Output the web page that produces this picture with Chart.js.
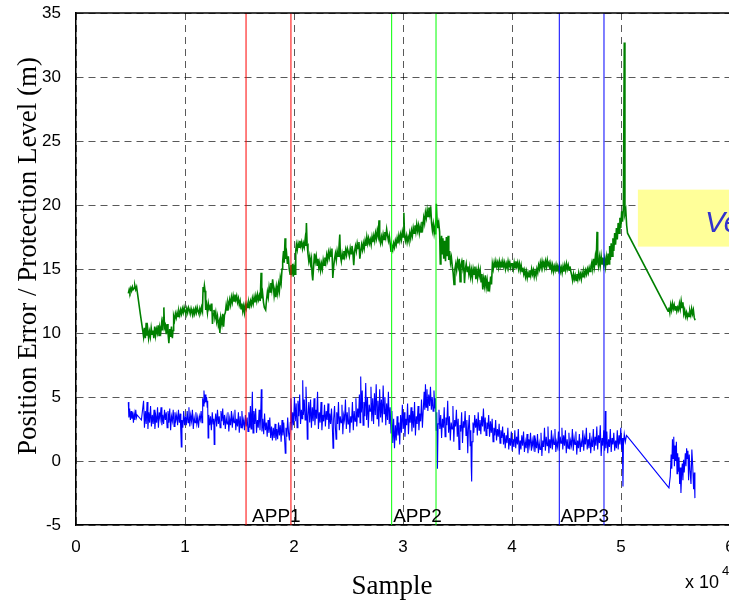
<!DOCTYPE HTML>
<html>

<head>
    <meta charset="UTF-8">
    <title>Position Error / Protection Level</title>
    <script src="https://cdn.jsdelivr.net/npm/chart.js"></script>
    <style>
        html, body { margin: 0; padding: 0; background: #fff; overflow: hidden; }
        canvas { display: block; }
    </style>
</head>

<body>
    <canvas id="myChart" width="745" height="601"></canvas>
    <script>
        // approach windows (sample x 10^4)
        const appNames = ['APP1', 'APP2', 'APP3'];
        const appStart = [1.56, 2.896, 4.434];
        const appEnd = [1.972, 3.303, 4.844];
        const appLabelX = [1.615, 2.91, 4.444];
        const appColors = ['#ff0000', '#00ff00', '#0000ff'];

        const xTicks = [0, 1, 2, 3, 4, 5, 6];
        const yTicks = [-5, 0, 5, 10, 15, 20, 25, 30, 35];

        // protection level [sample x 10^4, m]
        const protLevel = [
            [0.480,13.1],[0.488,13.4],[0.495,13.2],[0.503,13.5],[0.510,13.3],[0.518,13.6],[0.525,13.4],[0.533,13.5],[0.540,13.7],[0.548,13.4],[0.556,13.6],
            [0.590,11.5],[0.612,10.2],[0.620,9.7],[0.628,10.4],[0.636,9.6],[0.644,10.8],[0.650,9.8],[0.658,10.3],[0.666,9.6],[0.674,10.1],[0.682,9.7],[0.690,10.4],[0.698,9.9],[0.706,10.2],[0.714,9.6],[0.722,10.5],[0.730,9.8],[0.738,10.3],[0.746,10.0],[0.754,10.6],[0.762,9.8],[0.770,10.4],[0.778,10.1],[0.786,10.8],[0.794,10.2],[0.800,11.2],[0.806,12.0],[0.812,10.4],[0.820,10.6],[0.828,9.9],[0.836,10.7],[0.844,10.0],[0.852,9.2],[0.860,10.3],[0.868,9.7],[0.876,10.5],[0.884,9.6],[0.890,10.2],
            [0.896,11.3],[0.904,11.0],[0.912,11.5],[0.920,11.2],[0.928,11.6],[0.936,11.3],[0.944,11.7],[0.952,11.4],[0.960,11.8],[0.968,11.5],[0.976,11.9],[0.984,11.6],[0.992,12.0],[1.000,11.7],[1.008,11.5],[1.016,11.9],[1.024,11.6],[1.032,12.0],[1.040,11.8],[1.048,11.5],[1.056,11.9],[1.064,11.6],[1.072,11.4],[1.080,11.8],[1.088,11.5],[1.096,11.9],[1.104,11.6],[1.112,12.0],[1.120,11.7],[1.128,11.5],[1.136,11.9],[1.144,11.6],[1.152,12.0],[1.160,11.7],
            [1.166,13.6],[1.172,13.2],[1.178,13.7],[1.184,13.3],[1.190,11.8],[1.198,12.2],[1.206,11.6],[1.214,12.3],[1.222,11.9],[1.230,12.1],[1.238,11.7],[1.246,12.3],[1.252,10.7],[1.258,11.5],[1.266,11.8],[1.274,11.2],[1.282,11.6],[1.290,10.9],[1.298,11.3],[1.306,10.6],[1.314,10.9],[1.320,10.0],[1.328,11.2],[1.338,10.7],[1.346,11.5],[1.354,10.5],[1.362,11.4],[1.370,11.6],[1.378,12.2],[1.386,11.8],[1.394,12.4],[1.402,12.1],[1.410,12.6],[1.418,12.2],[1.426,12.8],[1.434,12.4],[1.442,12.9],[1.450,12.5],[1.458,13.0],[1.466,12.6],[1.474,12.9],[1.482,12.4],[1.490,12.7],[1.498,12.2],[1.506,12.5],[1.514,11.9],[1.522,12.3],[1.530,11.7],[1.538,12.1],[1.546,11.6],[1.554,12.2],
            [1.562,11.9],[1.570,12.3],[1.578,12.0],[1.586,12.4],[1.594,12.1],[1.602,12.5],[1.610,12.2],[1.618,12.7],[1.626,12.3],[1.634,12.8],[1.642,12.4],[1.650,12.9],[1.658,12.5],[1.666,13.0],[1.674,12.6],[1.682,12.9],[1.690,12.5],[1.698,14.7],[1.704,12.7],[1.712,13.1],[1.720,12.4],[1.728,12.0],[1.740,11.8],[1.748,12.6],[1.756,13.2],[1.764,12.8],[1.772,13.6],[1.780,13.2],[1.788,13.9],[1.796,13.4],[1.804,14.2],[1.812,13.5],[1.818,12.9],[1.826,13.4],[1.834,12.8],[1.842,13.6],[1.850,13.1],[1.858,13.8],[1.866,13.3],[1.874,14.3],[1.882,13.9],[1.890,15.0],[1.896,15.6],[1.904,16.4],[1.910,15.5],[1.918,17.4],[1.924,15.8],[1.932,16.2],[1.940,15.4],[1.948,16.0],[1.956,15.0],[1.964,14.6],[1.972,15.3],[1.980,14.8],[1.988,15.4],[1.994,14.4],[2.002,15.1],[2.010,14.6],
            [2.016,16.4],[2.022,16.9],[2.030,16.5],[2.038,17.0],[2.046,16.7],[2.054,17.2],[2.062,16.8],[2.070,17.1],[2.078,16.6],[2.086,17.0],[2.094,16.7],[2.102,17.3],[2.108,16.8],[2.114,18.6],[2.120,17.0],[2.128,16.2],[2.136,15.6],[2.144,16.0],[2.152,15.4],[2.160,15.8],[2.166,14.6],[2.172,14.1],[2.180,15.2],[2.188,16.2],[2.196,15.6],[2.204,16.0],[2.212,15.3],[2.220,15.8],[2.228,15.1],[2.236,15.5],[2.244,14.9],[2.252,15.4],[2.260,15.0],[2.268,15.7],[2.276,15.3],[2.284,15.9],[2.292,15.5],[2.300,16.1],[2.308,15.7],[2.316,16.3],[2.324,15.9],[2.332,16.4],[2.340,16.0],[2.348,16.6],[2.356,14.3],[2.364,15.2],[2.372,15.8],[2.380,16.2],[2.388,15.7],[2.396,16.4],[2.404,16.0],[2.412,16.6],[2.420,17.7],[2.426,16.0],[2.434,15.6],[2.442,16.2],[2.450,15.8],[2.458,16.4],[2.466,16.0],[2.474,16.5],[2.482,16.1],[2.490,16.6],
            [2.500,16.3],[2.508,16.0],[2.516,16.6],[2.524,16.2],[2.532,16.8],[2.540,16.3],[2.548,15.3],[2.556,16.4],[2.564,16.8],[2.572,16.4],[2.580,17.0],[2.588,16.6],[2.596,17.1],[2.604,15.8],[2.612,16.4],[2.620,16.9],[2.628,16.5],[2.636,17.0],[2.644,16.6],[2.652,17.2],[2.660,16.8],[2.668,17.5],[2.676,17.0],[2.684,17.4],[2.692,17.0],[2.700,17.3],[2.708,16.9],[2.716,17.5],[2.724,17.1],[2.732,17.6],[2.740,17.2],[2.748,17.8],[2.756,17.4],[2.764,18.0],[2.772,17.6],[2.780,18.8],[2.786,17.3],[2.794,17.0],[2.802,17.5],[2.810,17.1],[2.818,17.7],[2.826,17.3],[2.834,17.9],[2.842,17.5],[2.850,18.1],[2.858,17.6],[2.866,17.2],[2.874,17.6],[2.882,17.0],[2.890,16.4],[2.898,16.8],[2.906,16.5],[2.914,17.0],[2.922,16.7],[2.930,17.2],[2.938,16.9],[2.946,17.4],[2.954,17.0],[2.962,17.6],[2.970,17.2],[2.978,17.7],[2.986,17.3],[2.994,17.9],[3.002,17.5],[3.008,19.4],[3.014,17.6],
            [3.022,17.2],[3.030,17.6],[3.038,17.1],[3.046,17.5],[3.054,17.2],[3.062,17.8],[3.070,17.4],[3.078,18.0],[3.086,17.6],[3.094,18.2],[3.102,17.8],[3.110,18.4],[3.118,17.9],[3.126,18.5],[3.134,18.0],[3.142,18.4],[3.150,17.8],[3.158,18.3],[3.166,17.9],[3.174,18.7],[3.182,18.3],[3.190,19.0],[3.198,18.6],[3.206,19.4],[3.214,19.0],[3.222,19.6],[3.230,19.1],[3.238,19.8],[3.246,19.3],[3.254,19.9],[3.262,18.6],[3.270,18.0],[3.278,18.5],[3.286,17.8],[3.294,18.3],[3.300,17.7],[3.306,20.1],[3.312,18.8],[3.320,18.2],[3.328,18.6],[3.336,17.9],[3.342,15.4],[3.348,16.8],[3.354,17.6],[3.360,16.2],[3.366,17.4],[3.374,15.8],[3.382,17.2],[3.390,15.6],[3.398,17.5],[3.406,16.0],[3.414,17.6],[3.420,15.7],[3.428,16.4],[3.436,15.5],[3.444,15.9],[3.452,15.2],[3.460,14.7],[3.468,13.8],[3.476,15.0],[3.484,15.4],[3.492,14.9],
            [3.500,15.6],[3.508,15.2],[3.516,15.8],[3.524,14.0],[3.532,15.3],[3.540,15.6],[3.548,15.1],[3.556,15.7],[3.564,13.9],[3.572,15.0],[3.580,15.4],[3.588,14.8],[3.596,15.2],[3.604,14.6],[3.612,15.1],[3.620,14.4],[3.628,14.9],[3.636,14.3],[3.644,15.0],[3.652,14.6],[3.660,15.2],[3.668,14.2],[3.676,14.8],[3.684,14.3],[3.692,15.0],[3.700,14.5],[3.708,14.9],[3.716,14.0],[3.724,14.6],[3.732,13.4],[3.740,14.2],[3.748,13.7],[3.756,14.5],[3.764,13.6],[3.772,14.1],[3.780,13.3],[3.788,14.0],[3.796,13.6],[3.804,14.4],[3.812,13.8],[3.820,15.4],[3.828,15.0],[3.836,15.5],[3.844,15.1],[3.852,15.6],[3.860,15.2],[3.868,15.5],[3.876,15.1],[3.884,15.6],[3.892,15.2],[3.900,15.5],[3.908,15.1],[3.916,15.6],[3.924,15.2],[3.932,15.5],[3.940,15.0],[3.948,15.4],[3.956,15.1],[3.964,15.6],[3.972,15.2],[3.980,15.5],[3.988,15.1],[3.996,15.4],
            [4.004,15.4],[4.012,15.0],[4.020,15.5],[4.028,15.1],[4.036,15.6],[4.044,15.2],[4.052,15.5],[4.060,15.0],[4.068,15.4],[4.076,14.9],[4.084,15.3],[4.092,14.8],[4.100,15.1],[4.108,14.6],[4.116,14.9],[4.124,14.4],[4.132,14.8],[4.140,14.3],[4.148,14.7],[4.156,14.4],[4.164,14.9],[4.172,14.5],[4.180,15.0],[4.188,14.6],[4.196,14.9],[4.204,14.4],[4.212,14.8],[4.220,14.5],[4.228,15.0],[4.236,14.7],[4.244,15.3],[4.252,15.0],[4.260,15.5],[4.268,15.1],[4.276,15.6],[4.284,15.2],[4.292,15.5],[4.300,15.1],[4.308,15.6],[4.316,15.2],[4.324,15.7],[4.332,15.3],[4.340,15.5],[4.348,15.0],[4.356,15.4],[4.364,14.9],[4.372,15.3],[4.380,14.8],[4.388,15.2],[4.396,14.9],[4.404,15.3],[4.412,14.8],[4.420,15.2],[4.428,14.9],[4.436,15.3],[4.444,14.8],[4.452,15.1],[4.460,14.7],[4.468,15.2],[4.476,14.8],[4.484,15.3],[4.492,14.9],
            [4.500,15.4],[4.508,15.0],[4.516,15.3],[4.524,14.9],[4.532,15.2],[4.540,14.8],[4.548,14.5],[4.556,14.1],[4.564,14.6],[4.572,14.2],[4.580,14.5],[4.588,14.1],[4.596,14.6],[4.604,14.2],[4.612,14.7],[4.620,14.3],[4.628,14.6],[4.636,14.2],[4.644,14.7],[4.652,14.4],[4.660,14.8],[4.668,14.5],[4.676,14.9],[4.684,14.6],[4.692,15.0],[4.700,14.7],[4.708,15.1],[4.716,14.8],[4.724,15.2],[4.732,15.5],[4.740,15.0],[4.748,15.8],[4.756,15.2],[4.764,15.9],[4.772,15.3],[4.780,17.9],[4.786,15.6],[4.794,15.2],[4.802,15.9],[4.810,15.3],[4.818,16.0],[4.826,15.4],[4.834,15.9],[4.842,15.3],[4.850,15.8],[4.858,15.2],[4.866,15.9],[4.874,15.3],[4.882,16.2],[4.890,15.4],[4.896,16.8],[4.902,15.7],[4.910,17.0],[4.918,16.0],[4.926,17.4],[4.934,16.4],[4.942,17.8],[4.950,16.9],[4.958,18.2],[4.966,17.3],[4.974,18.6],[4.982,17.8],[4.990,19.0],[4.998,18.2],[5.006,19.5],[5.014,18.7],[5.022,19.8],[5.030,32.7],[5.036,19.3],[5.044,19.6],[5.052,18.4],[5.060,17.8],
            [5.432,11.7],[5.440,12.0],[5.448,11.6],[5.456,12.2],[5.464,11.8],[5.472,12.3],[5.480,11.9],[5.488,12.2],[5.496,11.8],[5.504,12.1],[5.512,11.7],[5.520,12.0],[5.528,11.8],[5.536,12.3],[5.544,11.9],[5.552,12.5],[5.560,12.0],[5.568,12.4],[5.576,11.5],[5.584,11.8],[5.592,11.3],[5.600,11.6],[5.608,11.2],[5.616,11.5],[5.624,11.3],[5.632,11.7],[5.640,11.4],[5.648,11.9],[5.656,11.5],[5.664,11.8],[5.672,11.2],[5.680,11.0]
        ];

        // position error [sample x 10^4, m]
        const posError = [
            [0.480,4.6],[0.485,3.4],[0.492,4.1],[0.499,3.2],[0.506,3.9],[0.513,3.3],[0.520,3.8],[0.527,3.0],[0.534,3.7],[0.541,3.2],[0.548,4.0],[0.555,3.4],[0.560,3.6],[0.600,3.2],
            [0.620,4.7],[0.628,2.6],[0.636,3.9],[0.644,2.9],[0.652,4.6],[0.660,2.5],[0.668,3.8],[0.676,3.0],[0.684,4.3],[0.692,2.7],[0.700,3.6],[0.708,2.9],[0.716,4.0],[0.724,2.5],[0.732,3.5],[0.740,3.0],[0.748,4.2],[0.756,2.6],[0.764,3.8],[0.772,3.3],[0.780,4.2],[0.788,2.8],[0.796,3.6],[0.804,2.9],[0.812,4.0],[0.820,3.2],[0.828,3.8],[0.836,2.6],[0.844,3.9],[0.852,3.0],[0.860,4.1],[0.868,2.4],[0.876,3.5],[0.884,3.1],[0.892,4.0],[0.900,2.7],[0.908,3.8],[0.916,3.2],[0.924,3.6],[0.932,2.8],[0.940,4.0],[0.948,3.0],[0.956,3.7],[0.962,2.2],[0.966,1.1],[0.972,3.2],[0.980,2.6],[0.988,3.9],[0.996,2.8],
            [1.004,3.5],[1.012,2.8],[1.020,3.9],[1.028,3.0],[1.036,4.2],[1.044,2.7],[1.052,3.6],[1.060,3.1],[1.068,4.0],[1.076,2.5],[1.084,3.4],[1.092,3.0],[1.100,3.8],[1.108,2.9],[1.116,3.4],[1.124,2.6],[1.132,3.5],[1.140,3.2],[1.148,3.9],[1.156,3.0],[1.162,4.9],[1.168,4.3],[1.174,5.5],[1.180,4.5],[1.186,5.2],[1.192,4.6],[1.198,5.0],[1.204,4.2],[1.208,4.7],[1.212,1.8],[1.218,3.6],[1.226,2.8],[1.234,3.5],[1.242,2.4],[1.250,3.8],[1.258,2.9],[1.264,3.3],[1.268,1.3],[1.274,3.0],[1.282,3.7],[1.290,2.7],[1.298,4.0],[1.306,2.9],[1.314,3.5],[1.322,2.6],[1.330,3.9],[1.338,3.1],[1.346,4.1],[1.354,2.8],[1.362,3.6],[1.370,2.5],[1.378,3.4],[1.386,2.9],[1.394,3.8],[1.402,2.3],[1.410,3.3],[1.418,2.8],[1.426,3.9],[1.434,2.6],[1.442,3.5],[1.450,3.0],[1.458,4.0],[1.466,2.4],[1.474,3.3],[1.482,2.7],[1.490,3.8],[1.498,2.2],[1.506,3.5],[1.514,2.6],[1.522,3.9],[1.530,2.8],[1.538,3.2],[1.546,2.4],[1.554,3.6],
            [1.562,2.7],[1.570,3.4],[1.578,2.3],[1.586,3.8],[1.594,2.6],[1.600,4.3],[1.606,2.5],[1.612,3.6],[1.618,5.4],[1.624,2.2],[1.632,3.9],[1.640,2.9],[1.648,4.1],[1.656,2.2],[1.664,3.2],[1.672,2.6],[1.680,4.0],[1.688,2.4],[1.694,3.5],[1.700,5.6],[1.706,2.3],[1.714,3.3],[1.722,2.1],[1.730,3.7],[1.738,2.4],[1.746,3.0],[1.754,1.9],[1.762,3.2],[1.770,2.2],[1.778,3.4],[1.786,1.8],[1.794,2.7],[1.802,1.6],[1.810,2.6],[1.818,1.8],[1.826,2.9],[1.834,1.6],[1.842,2.5],[1.850,1.7],[1.858,3.0],[1.866,2.0],[1.874,2.8],[1.882,1.5],[1.890,3.2],[1.898,2.0],[1.906,3.0],[1.914,1.7],[1.920,0.6],[1.926,2.6],[1.934,1.9],[1.942,3.4],[1.950,2.2],[1.958,1.6],[1.966,3.0],
            [1.972,4.9],[1.980,2.4],[1.988,3.8],[1.996,2.8],[2.004,5.0],[2.012,3.1],[2.020,4.5],[2.028,2.6],[2.036,4.7],[2.044,3.5],[2.052,5.2],[2.060,2.9],[2.068,4.0],[2.074,3.3],[2.080,6.3],[2.086,3.6],[2.094,4.8],[2.102,3.2],[2.110,5.8],[2.116,4.3],[2.122,1.7],[2.128,3.5],[2.136,4.6],[2.144,3.0],
            [2.152,4.8],[2.160,2.6],[2.168,4.2],[2.176,3.1],[2.184,4.9],[2.192,2.8],[2.200,4.0],[2.208,3.3],[2.216,5.4],[2.224,2.5],[2.232,3.8],[2.240,3.0],[2.248,4.6],[2.256,2.4],[2.264,3.6],[2.272,3.1],[2.280,4.4],[2.288,2.7],[2.296,3.9],[2.304,3.2],[2.312,4.5],[2.320,2.5],[2.328,3.7],[2.336,2.9],[2.344,4.1],[2.352,2.6],[2.358,1.0],[2.364,3.3],
            [2.372,4.3],[2.380,2.6],[2.386,1.7],[2.392,3.8],[2.400,2.9],[2.408,4.6],[2.416,2.4],[2.424,3.5],[2.432,3.0],[2.440,4.4],[2.448,2.1],[2.456,3.6],[2.464,3.2],[2.472,4.8],[2.480,2.5],[2.488,3.8],[2.496,2.9],[2.504,4.2],[2.512,2.2],[2.520,3.5],[2.528,3.0],[2.536,4.6],[2.544,2.4],[2.552,3.9],[2.560,3.1],[2.568,4.9],[2.576,2.7],[2.584,4.1],[2.592,3.4],
            [2.600,5.2],[2.606,3.0],[2.612,6.6],[2.618,3.8],[2.626,5.5],[2.634,2.8],[2.642,4.6],[2.650,3.5],[2.658,6.1],[2.666,3.2],[2.674,5.0],[2.682,2.6],[2.690,4.4],[2.698,3.9],[2.706,5.8],[2.714,3.1],[2.722,4.9],[2.730,2.9],[2.738,5.3],[2.746,3.6],[2.754,6.0],[2.762,3.3],[2.770,4.7],[2.778,2.7],[2.786,5.6],[2.794,3.4],[2.802,4.8],[2.810,3.0],[2.818,5.9],[2.826,3.7],[2.834,5.0],[2.842,2.8],[2.850,4.5],[2.858,3.2],[2.866,5.4],[2.874,2.9],[2.882,4.2],
            [2.890,2.2],[2.898,3.9],[2.906,1.4],[2.914,3.3],[2.922,1.0],[2.930,2.8],[2.938,1.6],[2.946,3.5],[2.954,2.0],[2.962,3.0],[2.970,1.3],
            [2.978,3.6],[2.986,2.2],[2.994,4.4],[3.002,2.5],[3.010,3.8],[3.018,1.9],[3.026,3.3],[3.034,2.8],[3.042,4.5],[3.050,2.1],[3.058,3.6],[3.066,3.0],[3.074,4.2],[3.082,2.3],[3.090,3.9],[3.098,2.6],[3.106,4.6],[3.114,2.0],[3.122,3.5],[3.130,2.9],[3.138,4.3],[3.146,2.4],[3.154,3.7],[3.162,3.1],[3.170,4.8],[3.178,2.6],[3.186,4.0],
            [3.194,5.4],[3.200,4.0],[3.206,6.0],[3.212,4.2],[3.220,5.6],[3.228,3.9],[3.236,5.2],[3.244,4.3],[3.252,5.8],[3.260,4.0],[3.268,5.0],[3.276,3.9],[3.284,5.5],[3.292,4.1],[3.298,4.9],[3.304,2.4],[3.310,3.8],[3.316,-0.6],[3.322,2.9],
            [3.330,4.0],[3.338,2.5],[3.346,3.6],[3.354,1.8],[3.362,3.3],[3.370,2.6],[3.378,4.2],[3.386,1.9],[3.394,3.4],[3.402,2.8],[3.410,4.7],[3.418,2.2],[3.426,3.5],[3.434,1.6],[3.442,3.0],[3.450,2.5],[3.458,4.3],[3.466,1.5],[3.474,3.2],[3.482,2.7],[3.490,4.0],[3.498,1.9],[3.506,3.3],[3.514,0.9],[3.522,2.8],[3.530,2.3],[3.538,3.8],[3.546,1.4],[3.554,3.1],[3.562,2.6],[3.570,3.9],[3.578,2.0],[3.586,3.2],[3.594,0.6],[3.600,2.5],[3.608,3.6],[3.616,1.2],[3.622,2.4],[3.626,-0.4],[3.630,-1.6],[3.634,1.5],
            [3.642,3.0],[3.650,2.2],[3.658,3.6],[3.666,2.6],[3.674,3.3],[3.682,2.0],[3.690,3.8],[3.698,2.4],[3.706,3.2],[3.714,2.1],[3.722,3.5],[3.730,2.7],[3.738,4.1],[3.746,2.3],[3.754,3.4],[3.762,2.0],[3.770,3.0],[3.778,2.5],[3.786,3.6],[3.794,1.9],[3.802,3.1],[3.810,2.2],[3.818,3.3],[3.826,1.5],[3.834,2.6],[3.842,2.0],[3.850,3.2],[3.858,1.6],[3.866,2.5],[3.874,1.9],[3.882,2.9],[3.890,1.4],[3.898,2.4],[3.906,1.8],[3.914,2.7],
            [3.922,1.3],[3.930,2.2],[3.938,1.0],[3.946,2.0],[3.954,1.4],[3.962,2.6],[3.970,0.9],[3.978,1.8],[3.986,1.2],[3.994,2.3],[4.002,0.8],[4.010,1.7],[4.018,1.1],[4.026,2.4],[4.034,1.0],[4.042,1.9],[4.050,1.3],[4.058,2.5],[4.066,0.5],[4.074,1.6],[4.082,0.9],[4.090,2.0],[4.098,1.2],[4.106,2.3],[4.114,0.7],[4.122,1.5],[4.130,1.0],[4.138,2.1],[4.146,0.6],[4.154,1.7],[4.162,1.2],[4.170,2.2],[4.178,0.8],[4.186,1.6],[4.194,1.1],[4.202,2.0],[4.210,0.7],[4.218,1.5],[4.226,1.0],[4.234,2.1],[4.242,0.6],[4.250,1.4],[4.258,0.9],[4.266,2.2],[4.274,0.4],[4.282,1.6],[4.290,1.1],[4.298,2.6],[4.306,0.8],[4.314,1.9],[4.322,1.2],[4.330,2.7],[4.338,0.6],[4.346,1.7],[4.354,1.0],[4.362,2.4],[4.370,0.9],[4.378,1.8],[4.386,1.3],[4.394,2.5],
            [4.402,0.7],[4.410,1.5],[4.418,1.1],[4.426,2.3],[4.434,0.8],[4.442,1.9],[4.450,1.4],[4.458,2.6],[4.466,0.9],[4.474,2.0],[4.482,1.2],[4.490,2.4],[4.498,0.6],[4.506,1.7],[4.514,1.0],[4.522,2.2],[4.530,0.9],[4.538,1.6],[4.546,1.2],[4.554,2.5],[4.562,0.8],[4.570,1.8],[4.578,1.3],[4.586,2.3],[4.594,0.5],[4.602,1.6],[4.610,1.0],[4.618,2.1],[4.626,0.7],[4.634,1.5],[4.642,1.1],[4.650,2.4],[4.658,0.8],[4.666,1.8],[4.674,1.3],[4.682,2.6],[4.690,0.9],[4.698,1.7],[4.706,1.0],[4.714,2.2],[4.722,0.6],[4.730,1.6],[4.738,1.1],[4.746,2.5],[4.754,0.8],[4.762,1.9],[4.770,1.2],[4.778,2.7],[4.786,0.9],[4.794,2.0],[4.802,1.4],[4.810,2.8],[4.818,0.4],[4.826,1.8],[4.834,1.2],[4.842,2.4],[4.850,0.8],[4.856,3.9],[4.862,1.0],[4.870,2.3],[4.878,0.6],[4.886,1.7],[4.894,1.1],[4.902,2.5],[4.910,0.7],[4.918,1.8],[4.926,1.3],[4.934,2.2],[4.942,0.8],[4.950,1.6],[4.958,1.0],[4.966,2.4],[4.974,0.9],[4.982,2.0],[4.990,1.3],[4.998,2.6],[5.006,0.9],[5.012,1.8],[5.018,-2.0],[5.022,1.2],[5.030,2.1],[5.040,1.5],[5.050,2.0],[5.060,1.9],
            [5.440,-2.1],[5.452,-1.2],[5.460,0.5],[5.466,-0.6],[5.472,1.7],[5.478,0.2],[5.484,1.9],[5.490,-0.4],[5.496,1.2],[5.502,0.0],[5.508,1.5],[5.514,-1.0],[5.520,0.6],[5.526,-0.8],[5.532,0.3],[5.538,-1.8],[5.544,-0.5],[5.550,-2.5],[5.556,-1.0],[5.562,-0.2],[5.568,-1.5],[5.574,0.1],[5.580,-0.9],[5.590,0.6],[5.596,-0.4],[5.602,1.0],[5.608,0.2],[5.614,0.8],[5.620,-1.5],[5.626,0.5],[5.634,-0.8],[5.642,-1.8],[5.650,0.9],[5.658,-0.4],[5.666,-2.2],[5.672,-0.9],[5.678,-2.9]
        ];

        const toXY = arr => arr.map(([x, y]) => ({ x: x, y: y }));

        // one vertical marker per window edge
        const markerSets = [];
        appNames.forEach((name, i) => {
            [appStart[i], appEnd[i]].forEach(xv => {
                markerSets.push({
                    label: name,
                    data: [{ x: xv, y: -5 }, { x: xv, y: 35 }],
                    borderColor: appColors[i],
                    borderWidth: 1,
                    pointRadius: 0,
                    showLine: true
                });
            });
        });

        // frame, window labels, overlay box and axis titles
        const decorations = {
            id: 'decorations',
            afterDatasetsDraw(chart) {
                const { ctx, chartArea: a, scales: { x, y } } = chart;
                ctx.save();

                // yellow text box, partly off the right edge
                const bx = x.getPixelForValue(5.155);
                const by = y.getPixelForValue(21.2);
                const bh = y.getPixelForValue(16.75) - by;
                ctx.fillStyle = '#ffff99';
                ctx.fillRect(bx, by, 140, bh);
                ctx.fillStyle = '#3333cc';
                ctx.font = 'italic 30px "Liberation Sans", Arial, sans-serif';
                ctx.textBaseline = 'alphabetic';
                ctx.fillText('Ve', x.getPixelForValue(5.77), y.getPixelForValue(17.9));

                // window names
                ctx.fillStyle = '#000';
                ctx.font = '19px "Liberation Sans", Arial, sans-serif';
                appNames.forEach((name, i) => {
                    ctx.fillText(name, x.getPixelForValue(appLabelX[i]), y.getPixelForValue(-4.75));
                });

                // top and right edges of the box
                ctx.strokeStyle = '#000';
                ctx.lineWidth = 1.5;
                ctx.beginPath();
                ctx.moveTo(a.left, a.top);
                ctx.lineTo(a.right, a.top);
                ctx.lineTo(a.right, a.bottom);
                ctx.stroke();
                ctx.restore();
            },
            afterDraw(chart) {
                const { ctx } = chart;
                ctx.save();
                ctx.fillStyle = '#000';
                ctx.textBaseline = 'alphabetic';

                // axis titles
                ctx.font = '27px "Liberation Serif", "Times New Roman", serif';
                ctx.textAlign = 'center';
                ctx.fillText('Sample', 392, 594);
                ctx.save();
                ctx.translate(36, 256);
                ctx.rotate(-Math.PI / 2);
                ctx.fillText('Position Error / Protection Level (m)', 0, 0);
                ctx.restore();

                // exponent of the sample axis
                ctx.textAlign = 'left';
                ctx.font = '18px "Liberation Sans", Arial, sans-serif';
                ctx.fillText('x 10', 685, 588);
                ctx.font = '13px "Liberation Sans", Arial, sans-serif';
                ctx.fillText('4', 722, 575);
                ctx.restore();
            }
        };

        const ctx = document.getElementById('myChart').getContext('2d');
        Chart.defaults.font.family = '"Liberation Sans", Arial, sans-serif';
        Chart.defaults.color = '#000';

        const gridStyle = {
            color: 'rgba(0,0,0,0.65)',
            lineWidth: 1,
            drawTicks: false
        };
        const borderStyle = { display: true, color: '#000', width: 1.5, dash: [7, 5] };

        const chart = new Chart(ctx, {
            type: 'scatter',
            data: {
                datasets: markerSets.concat([
                    {
                        label: 'Protection Level',
                        data: toXY(protLevel),
                        borderColor: '#008000',
                        borderWidth: 1.6,
                        pointRadius: 0,
                        showLine: true
                    },
                    {
                        label: 'Position Error',
                        data: toXY(posError),
                        borderColor: '#0000ff',
                        borderWidth: 1.1,
                        pointRadius: 0,
                        showLine: true
                    }
                ])
            },
            options: {
                responsive: false,
                animation: false,
                layout: { padding: { top: 13, right: 15, left: 0, bottom: 0 } },
                plugins: {
                    legend: { display: false },
                    tooltip: { enabled: false }
                },
                scales: {
                    x: {
                        type: 'linear',
                        min: 0,
                        max: 6,
                        afterBuildTicks: s => { s.ticks = xTicks.map(v => ({ value: v })); },
                        afterFit: s => { s.height = 76; s.paddingLeft = 0; s.paddingRight = 0; },
                        ticks: { font: { size: 17 }, padding: 12, maxRotation: 0 },
                        grid: gridStyle,
                        border: borderStyle
                    },
                    y: {
                        type: 'linear',
                        min: -5,
                        max: 35,
                        afterBuildTicks: s => { s.ticks = yTicks.map(v => ({ value: v })); },
                        afterFit: s => { s.width = 76; s.paddingTop = 0; s.paddingBottom = 0; },
                        ticks: { font: { size: 17 }, padding: 15 },
                        grid: gridStyle,
                        border: borderStyle
                    }
                }
            },
            plugins: [decorations]
        });
    </script>
</body>

</html>
